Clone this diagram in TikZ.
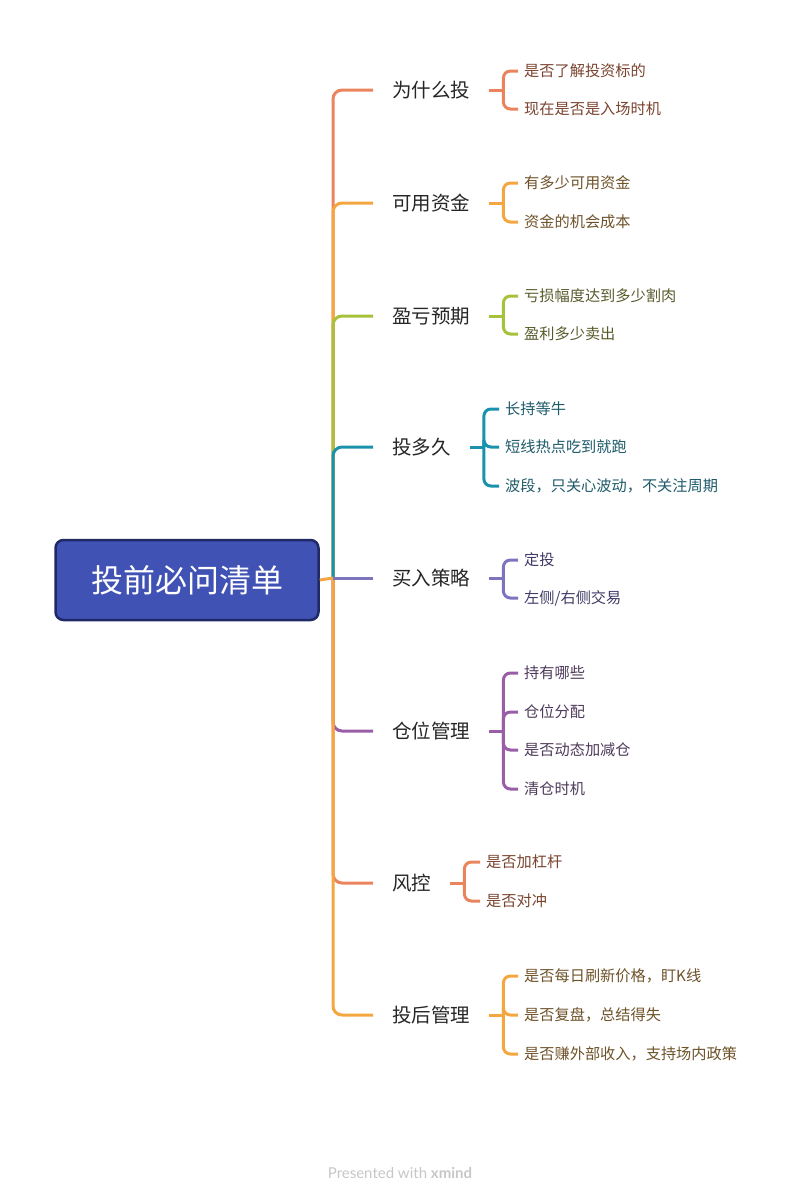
\documentclass[tikz,border=0pt]{standalone}
\usepackage{fontspec}
\setmainfont{Noto Sans CJK SC}
\newfontfamily\footfont{Lato}
\usetikzlibrary{positioning}
\definecolor{coral}{HTML}{E9845C}
\definecolor{amber}{HTML}{F4A641}
\definecolor{lime}{HTML}{A6C23A}
\definecolor{teal}{HTML}{1A92AD}
\definecolor{violet}{HTML}{7D74C0}
\definecolor{plum}{HTML}{9A5EA8}
\definecolor{coraltext}{HTML}{7A4330}
\definecolor{ambertext}{HTML}{6E5229}
\definecolor{limetext}{HTML}{585A2A}
\definecolor{tealtext}{HTML}{1E5A6A}
\definecolor{violettext}{HTML}{3F3A66}
\definecolor{plumtext}{HTML}{4E3A5A}
\definecolor{rootfill}{HTML}{4152B5}
\definecolor{rootedge}{HTML}{1E2966}

\begin{document}
\begin{tikzpicture}[x=1pt, y=-1pt,
  root/.style={rectangle, rounded corners=8pt, draw=rootedge, line width=2.5pt, fill=rootfill, text=white, minimum width=263pt, minimum height=80pt, font=\fontsize{32}{36}\selectfont},
  topic/.style={anchor=west, inner xsep=19pt, inner ysep=2pt, text=black!85, font=\fontsize{19.5}{22}\selectfont},
  sub/.style={anchor=west, inner xsep=6pt, inner ysep=1pt, font=\fontsize{15.2}{17}\selectfont},
  trunk/.style={line width=3pt, rounded corners=9pt},
  brace/.style={line width=3pt, rounded corners=7pt}]
  \useasboundingbox (0,0) rectangle (797,1200);

  \node[root] (r) at (187,580) {投前必问清单};
  \coordinate (t) at (333,578);

  % main topics
  \node[topic] (b1) at (373,90) {为什么投};
  \node[topic] (b2) at (373,203) {可用资金};
  \node[topic] (b3) at (373,316) {盈亏预期};
  \node[topic] (b4) at (373,447) {投多久};
  \node[topic] (b5) at (373,578) {买入策略};
  \node[topic] (b6) at (373,731) {仓位管理};
  \node[topic] (b7) at (373,883) {风控};
  \node[topic] (b8) at (373,1015) {投后管理};

  % sub topics
  \node[sub, text=coraltext] (c11) at (518,71) {是否了解投资标的};
  \node[sub, text=coraltext] (c12) at (518,109) {现在是否是入场时机};
  \node[sub, text=ambertext] (c21) at (518,183) {有多少可用资金};
  \node[sub, text=ambertext] (c22) at (518,222) {资金的机会成本};
  \node[sub, text=limetext] (c31) at (518,296) {亏损幅度达到多少割肉};
  \node[sub, text=limetext] (c32) at (518,334) {盈利多少卖出};
  \node[sub, text=tealtext] (c41) at (499,409) {长持等牛};
  \node[sub, text=tealtext] (c42) at (499,447) {短线热点吃到就跑};
  \node[sub, text=tealtext] (c43) at (499,486) {波段，只关心波动，不关注周期};
  \node[sub, text=violettext] (c51) at (518,560) {定投};
  \node[sub, text=violettext] (c52) at (518,598) {左侧/右侧交易};
  \node[sub, text=plumtext] (c61) at (518,673) {持有哪些};
  \node[sub, text=plumtext] (c62) at (518,712) {仓位分配};
  \node[sub, text=plumtext] (c63) at (518,750) {是否动态加减仓};
  \node[sub, text=plumtext] (c64) at (518,789) {清仓时机};
  \node[sub, text=coraltext] (c71) at (480,862) {是否加杠杆};
  \node[sub, text=coraltext] (c72) at (480,901) {是否对冲};
  \node[sub, text=ambertext] (c81) at (518,976) {是否每日刷新价格，盯K线};
  \node[sub, text=ambertext] (c82) at (518,1015) {是否复盘，总结得失};
  \node[sub, text=ambertext] (c83) at (518,1054) {是否赚外部收入，支持场内政策};

  % trunk
  \draw[trunk, coral] (t) |- (b1.west);
  \draw[trunk, amber] (t) |- (b2.west);
  \draw[trunk, lime] (t) |- (b3.west);
  \draw[trunk, teal] (t) |- (b4.west);
  \draw[trunk, plum] (t) |- (b6.west);
  \draw[trunk, coral] (t) |- (b7.west);
  \draw[trunk, amber] (t) |- (b8.west);
  \draw[trunk, violet] (t) -- (b5.west);
  \draw[trunk, amber] (r.east) -- (t);

  % braces
  \foreach \b/\col/\subs in {1/coral/{1,2}, 2/amber/{1,2}, 3/lime/{1,2}, 4/teal/{1,2,3}, 5/violet/{1,2}, 6/plum/{1,2,3,4}, 7/coral/{1,2}, 8/amber/{1,2,3}} {
    \coordinate (k\b) at ([xshift=14pt]b\b.east);
    \draw[brace, \col] (b\b.east) -- (k\b);
    \foreach \s in \subs
      \draw[brace, \col] (k\b) |- (c\b\s.west);
  }

  \node[font=\footfont\fontsize{15}{17}\selectfont, text=black!22] (ft) at (400,1173) {Presented with \textbf{xmind}};
\end{tikzpicture}
\end{document}
